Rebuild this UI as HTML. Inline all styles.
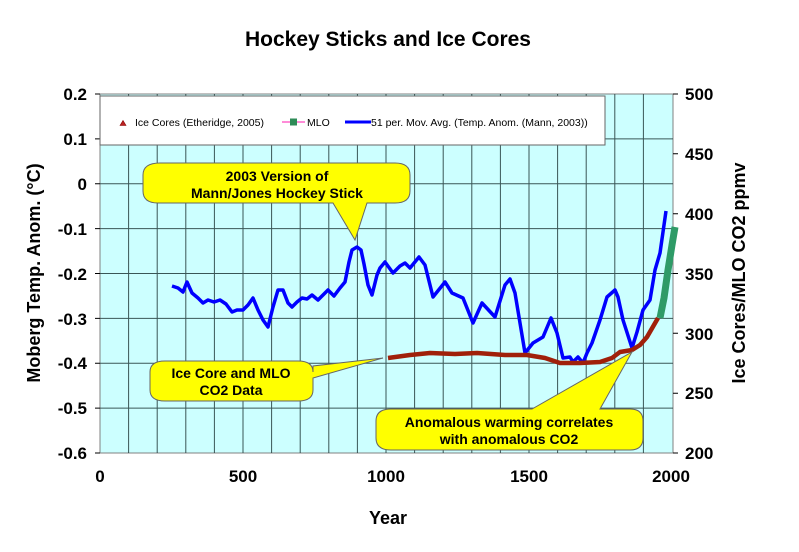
<!DOCTYPE html>
<html><head><style>body{margin:0;background:#fff}</style></head><body>
<svg width="799" height="547" viewBox="0 0 799 547" xmlns="http://www.w3.org/2000/svg" font-family="Liberation Sans, Arial, sans-serif">
<rect width="799" height="547" fill="#fff"/>
<text x="388" y="46" font-size="21" font-weight="bold" text-anchor="middle">Hockey Sticks and Ice Cores</text>
<rect x="100" y="94" width="573" height="359" fill="#ccffff" stroke="#808080"/>
<g stroke="#2a4444" stroke-width="1" opacity="0.9">
<path d="M128.6 94V453M157.2 94V453M185.8 94V453M214.4 94V453M243 94V453M271.6 94V453M300.2 94V453M328.8 94V453M357.4 94V453M386 94V453M414.6 94V453M443.2 94V453M471.8 94V453M500.4 94V453M529 94V453M557.6 94V453M586.2 94V453M614.8 94V453M643.4 94V453"/>
<path d="M100 138.9H673M100 183.8H673M100 228.6H673M100 273.5H673M100 318.4H673M100 363.2H673M100 408.1H673"/>
</g>
<g stroke="#000"><path d="M95 94H100M95 138.9H100M95 183.8H100M95 228.6H100M95 273.5H100M95 318.4H100M95 363.2H100M95 408.1H100M95 453H100"/>
<path d="M673 94H678M673 153.8H678M673 213.7H678M673 273.5H678M673 333.3H678M673 393.2H678M673 453H678"/></g>
<g font-size="17" font-weight="bold" text-anchor="end">
<text x="87" y="100">0.2</text><text x="87" y="145">0.1</text><text x="87" y="190">0</text><text x="87" y="235">-0.1</text><text x="87" y="280">-0.2</text><text x="87" y="325">-0.3</text><text x="87" y="369">-0.4</text><text x="87" y="414">-0.5</text><text x="87" y="459">-0.6</text>
</g>
<g font-size="17" font-weight="bold" text-anchor="start">
<text x="685" y="100">500</text><text x="685" y="160">450</text><text x="685" y="220">400</text><text x="685" y="280">350</text><text x="685" y="340">300</text><text x="685" y="399">250</text><text x="685" y="459">200</text>
</g>
<g font-size="17" font-weight="bold" text-anchor="middle">
<text x="100" y="482">0</text><text x="243" y="482">500</text><text x="386" y="482">1000</text><text x="529" y="482">1500</text><text x="671" y="482">2000</text>
</g>
<text x="388" y="524" font-size="18" font-weight="bold" text-anchor="middle">Year</text>
<text transform="translate(40,273) rotate(-90)" font-size="18" font-weight="bold" text-anchor="middle">Moberg Temp. Anom. (°C)</text>
<text transform="translate(745,273) rotate(-90)" font-size="18" font-weight="bold" text-anchor="middle">Ice Cores/MLO CO2 ppmv</text>
<rect x="100" y="96" width="505" height="49" fill="#fff" stroke="#666"/>
<path d="M120 125.5l3-5 3 5z" fill="#b22" stroke="#800" stroke-width=".6"/>
<text x="135" y="126" font-size="10.5">Ice Cores (Etheridge, 2005)</text>
<path d="M282 122H305" stroke="#f6c" stroke-width="1.5"/><rect x="290" y="118.5" width="7" height="7" fill="#2e8b57"/>
<text x="307" y="126" font-size="10.5">MLO</text>
<path d="M345 122H371" stroke="#00f" stroke-width="3"/>
<text x="371" y="126" font-size="10.5">51 per. Mov. Avg. (Temp. Anom. (Mann, 2003))</text>
<polyline fill="none" stroke="#00f" stroke-width="3.5" stroke-linejoin="round" points="172,286 178,288 183,292 187,282 192,293 198,298 203,303 208,300 214,302 220,300 226,304 232,312 237,310 243,310 248,305 253,298 258,310 263,320 268,327 273,307 278,290 283,290 288,303 292,307 297,302 302,298 307,299 312,295 318,300 323,295 328,290 334,296 340,288 345,282 349,262 352,250 357,247 361,250 364,264 368,285 372,295 377,275 380,268 385,262 393,273 400,266 405,263 410,268 419,257 425,265 433,297 445,282 452,293 463,298 473,323 482,303 495,317 505,285 510,279 515,293 525,353 533,343 543,337 551,318 557,333 563,358 570,357 573,362 578,357 583,363 587,353 592,343 600,320 607,297 615,290 618,297 623,320 632,348 637,332 643,310 650,300 655,270 660,253 666,211"/>
<polyline fill="none" stroke="#a0200a" stroke-width="4.5" stroke-linejoin="round" points="388,358 410,355 430,353 455,354 477,353 505,355 527,355 545,358 560,363 580,363 600,362 612,358 620,352 632,350 640,345 647,337 658,318"/>
<polyline fill="none" stroke="#2e9b67" stroke-width="7" points="660,318 664,298 668,270 672,245 675,227"/>
<g fill="#ffff00" stroke="#666" stroke-width="1">
<path d="M160 163H395Q410 163 410 175V191Q410 203 395 203H367L355 240L333 203H158Q143 203 143 191V175Q143 163 160 163Z"/>
<path d="M165 361H298Q313 361 313 372V366L383 358L313 378V390Q313 401 298 401H165Q150 401 150 390V372Q150 361 165 361Z"/>
<path d="M391 409H532L632 352L600 409H630Q643 409 643 421V438Q643 450 630 450H391Q376 450 376 438V421Q376 409 391 409Z"/>
</g>
<g font-size="14" font-weight="bold" text-anchor="middle">
<text x="277" y="181">2003 Version of</text><text x="277" y="198">Mann/Jones Hockey Stick</text>
<text x="231" y="378">Ice Core and MLO</text><text x="231" y="395">CO2 Data</text>
<text x="509" y="427">Anomalous warming correlates</text><text x="509" y="444">with anomalous CO2</text>
</g>
</svg>
</body></html>
